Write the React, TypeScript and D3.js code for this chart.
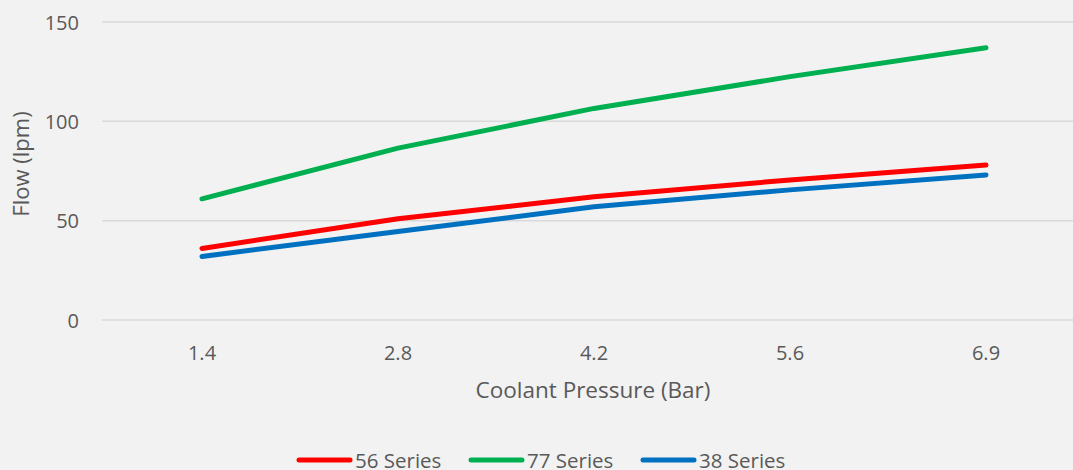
import * as d3 from "d3";

// chart data
const pressures = ["1.4", "2.8", "4.2", "5.6", "6.9"];
const series56 = [36, 51, 62, 70.5, 78];
const series77 = [61, 86.5, 106.5, 122.5, 137];
const series38 = [32, 44.5, 57, 65.5, 73];
const yTicks = [0, 50, 100, 150];

const seriesList = [
  { name: "56 Series", values: series56, color: "#FF0000" },
  { name: "77 Series", values: series77, color: "#00B050" },
  { name: "38 Series", values: series38, color: "#0070C0" },
];

const App = () => {
  const width = 1073;
  const height = 470;
  const font = "'Open Sans', sans-serif";
  const textColor = "#595959";

  const xScale = d3.scalePoint<string>().domain(pressures).range([104, 1084]).padding(0.5);
  const yScale = d3.scaleLinear().domain([0, 150]).range([320, 22]);

  const line = d3
    .line<number>()
    .x((d, i) => xScale(pressures[i]) as number)
    .y((d) => yScale(d));

  // legend layout
  const legendX = [297, 469, 641];

  return (
    <svg
      width={width}
      height={height}
      style={{ position: "absolute", left: 0, top: 0, background: "#F2F2F2" }}
      fontFamily={font}
    >
      <rect width={width} height={height} fill="#F2F2F2" />
      {/* gridlines + y ticks */}
      {yTicks.map((t) => (
        <g key={t}>
          <line x1={102} x2={1084} y1={yScale(t)} y2={yScale(t)} stroke="#D9D9D9" strokeWidth={1.5} />
          <text x={79} y={yScale(t)} textAnchor="end" dominantBaseline="central" fontSize={20} fill={textColor}>
            {t}
          </text>
        </g>
      ))}
      {/* x ticks */}
      {pressures.map((p) => (
        <text key={p} x={xScale(p)} y={352} textAnchor="middle" dominantBaseline="central" fontSize={20} fill={textColor}>
          {p}
        </text>
      ))}
      <text x={593} y={389} textAnchor="middle" dominantBaseline="central" fontSize={22.5} fill={textColor}>
        Coolant Pressure (Bar)
      </text>
      <text
        transform={`translate(20,164) rotate(-90)`}
        textAnchor="middle"
        dominantBaseline="central"
        fontSize={22}
        fill={textColor}
      >
        Flow (lpm)
      </text>
      {/* lines */}
      {seriesList.map((s) => (
        <path
          key={s.name}
          d={line(s.values) || ""}
          fill="none"
          stroke={s.color}
          strokeWidth={5}
          strokeLinecap="round"
          strokeLinejoin="round"
        />
      ))}
      {/* legend */}
      {seriesList.map((s, i) => (
        <g key={s.name} transform={`translate(${legendX[i]},460)`}>
          <line x1={2} x2={53} y1={0} y2={0} stroke={s.color} strokeWidth={5} strokeLinecap="round" />
          <text x={58} y={0} dominantBaseline="central" fontSize={20.5} fill={textColor}>
            {s.name}
          </text>
        </g>
      ))}
    </svg>
  );
};

export default App;
